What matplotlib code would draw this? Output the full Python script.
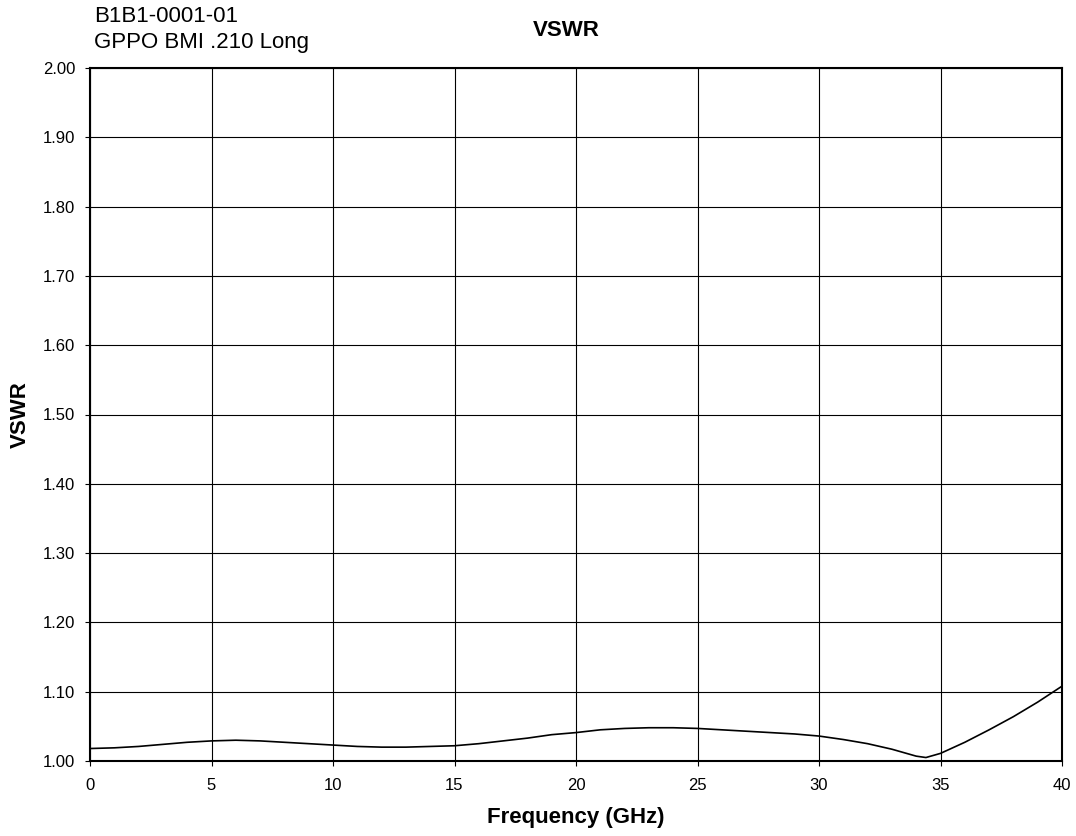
import matplotlib
matplotlib.use('Agg')
import matplotlib.pyplot as plt
from matplotlib.ticker import MultipleLocator, FormatStrFormatter

plt.rcParams['font.family'] = ['Liberation Sans', 'DejaVu Sans']

# VSWR readings taken off the reference curve
freq = [0, 1, 2, 3, 4, 5, 6, 7, 8, 9, 10, 11, 12, 13, 14, 15, 16, 17, 18, 19, 20,
        21, 22, 23, 24, 25, 26, 27, 28, 29, 30, 31, 32, 33, 34, 34.4, 35, 36, 37,
        38, 39, 40]
vswr = [1.018, 1.019, 1.021, 1.024, 1.027, 1.029, 1.030, 1.029, 1.027, 1.025,
        1.023, 1.021, 1.020, 1.020, 1.021, 1.022, 1.025, 1.029, 1.033, 1.038,
        1.041, 1.045, 1.047, 1.048, 1.048, 1.047, 1.045, 1.043, 1.041, 1.039,
        1.036, 1.031, 1.025, 1.017, 1.007, 1.005, 1.011, 1.027, 1.045, 1.064,
        1.085, 1.108]

header = 'B1B1-0001-01\nGPPO BMI .210 Long'

fig = plt.figure(figsize=(10.76, 8.36), dpi=100)
ax = fig.add_axes([90 / 1076, 1 - 761 / 836, (1062 - 90) / 1076, (761 - 68) / 836])

ax.plot(freq, vswr, color='black', linewidth=1.2)

ax.set_xlim(0, 40)
ax.set_ylim(1.0, 2.0)
ax.xaxis.set_major_locator(MultipleLocator(5))
ax.yaxis.set_major_locator(MultipleLocator(0.1))
ax.yaxis.set_major_formatter(FormatStrFormatter('%.2f'))
ax.grid(True, color='black', linewidth=0.8)
ax.tick_params(direction='out', length=3.6, width=0.8, labelsize=12, pad=7)
ax.tick_params(axis='x', pad=9)
for s in ax.spines.values():
    s.set_linewidth(1.5)

ax.set_xlabel('Frequency (GHz)', fontsize=16, fontweight='bold', va='center')
ax.xaxis.set_label_coords(0.5, (761 - 818) / 693)
ax.set_ylabel('VSWR', fontsize=16, fontweight='bold', va='center')
ax.yaxis.set_label_coords((20 - 90) / 972, (761 - 415) / 693)

fig.text(566 / 1076, 1 - 31 / 836, 'VSWR', ha='center', va='center',
         fontsize=16, fontweight='bold')
fig.text(94 / 1076, 1 - 6 / 836, header, ha='left', va='top', fontsize=16,
         linespacing=1.3)

fig.savefig('out.png', dpi=100)
